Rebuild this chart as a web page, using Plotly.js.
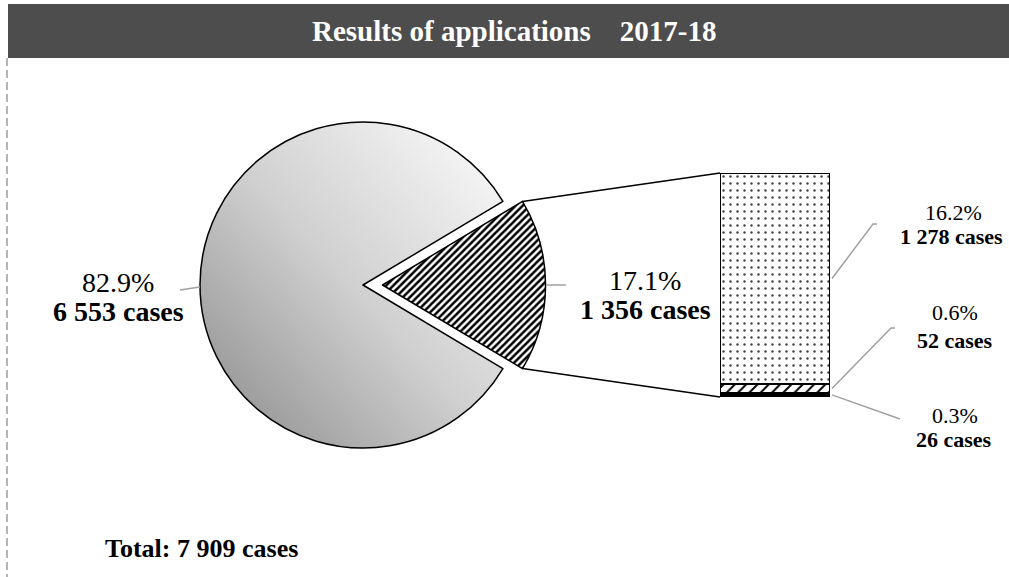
<!DOCTYPE html>
<html>
<head>
<meta charset="utf-8">
<script src="https://cdn.plot.ly/plotly-3.0.1.min.js"></script>
<style>html,body{margin:0;padding:0;background:#fff;}#chart{width:1009px;height:577px;}</style>
</head>
<body>
<div id="chart"></div>
<script>
// ---- data ----
const titleText = 'Results of applications\u00a0\u00a0\u00a0\u00a02017-18';
const pieCategories = ['Granted / other outcome', 'Broken down'];
const pieValues = [6553, 1356];
const piePctLabels = ['82.9%', '17.1%'];
const barCategories = ['Outcome A', 'Outcome B', 'Outcome C'];
const barValues = [1278, 52, 26];
const barPctLabels = ['16.2%', '0.6%', '0.3%'];
const totalLabel = 'Total: ';
const casesWord = ' cases';

// ---- helpers ----
const W = 1009, H = 577;
const X = p => p / W;
const Y = p => 1 - p / H;
const fmt = n => String(n).replace(/\B(?=(\d{3})+(?!\d))/g, ' ');
const total = pieValues.reduce((a, b) => a + b, 0);
const detailTotal = barValues.reduce((a, b) => a + b, 0);

// pie geometry (pixels)
const cx = 363, cy = 285, R = 163, pull = 0.12;
const half = R * (1 + pull);
const pieDomX = [X(cx - half), X(cx + half)];
const pieDomY = [Y(cy + half), Y(cy - half)];
const share = pieValues[1] / total;
const halfAng = share * Math.PI;
const rotation = 90 - share * 180;

// bar geometry (pixels)
const bx0 = 720, bx1 = 830, by0 = 173, by1 = 397;

const pieTrace = {
  type: 'pie',
  labels: [pieCategories[1], pieCategories[0]],
  values: [pieValues[1], pieValues[0]],
  sort: false,
  direction: 'clockwise',
  rotation: rotation,
  pull: [pull, 0],
  textinfo: 'none',
  hoverinfo: 'none',
  showlegend: false,
  domain: {x: pieDomX, y: pieDomY},
  marker: {
    colors: ['#ffffff', '#c8c8c8'],
    line: {color: '#000000', width: 1.5},
    pattern: {shape: ['/', ''], fgcolor: '#000000', bgcolor: ['#ffffff', '#c8c8c8'], size: 5, solidity: 0.5}
  }
};

const barTraces = [];
const order = [2, 1, 0];
const patShape = {0: '.', 1: '/', 2: ''};
const patSize = {0: 7, 1: 8, 2: 5};
const patSolid = {0: 0.1, 1: 0.25, 2: 0.3};
order.forEach(i => {
  barTraces.push({
    type: 'bar',
    x: [0],
    y: [barValues[i]],
    width: [1],
    name: barCategories[i],
    xaxis: 'x', yaxis: 'y',
    hoverinfo: 'none',
    showlegend: false,
    marker: {
      color: i === 2 ? '#000000' : '#ffffff',
      line: {color: '#000000', width: 1.5},
      pattern: {shape: patShape[i], fgcolor: i === 0 ? '#444444' : '#000000', bgcolor: '#ffffff', size: patSize[i], solidity: patSolid[i], fillmode: 'replace'}
    }
  });
});

// connector lines from exploded slice to bar
const pcx = cx + pull * R;
const topCorner = [pcx + R * Math.cos(halfAng), cy - R * Math.sin(halfAng)];
const botCorner = [pcx + R * Math.cos(halfAng), cy + R * Math.sin(halfAng)];

const shapes = [
  {type: 'rect', xref: 'paper', yref: 'paper', x0: X(8), x1: X(1009), y0: Y(58), y1: Y(4), fillcolor: '#4d4d4d', line: {width: 0}, layer: 'below'},
  {type: 'line', xref: 'paper', yref: 'paper', x0: X(7), x1: X(7), y0: Y(58), y1: Y(577), line: {color: '#9a9a9a', width: 1.5, dash: '8px,4px'}},
  {type: 'line', xref: 'paper', yref: 'paper', x0: X(topCorner[0]), y0: Y(topCorner[1]), x1: X(bx0), y1: Y(by0), line: {color: '#000', width: 1.5}},
  {type: 'line', xref: 'paper', yref: 'paper', x0: X(botCorner[0]), y0: Y(botCorner[1]), x1: X(bx0), y1: Y(by1), line: {color: '#000', width: 1.5}}
];

const lead = (pts) => ({type: 'path', xref: 'paper', yref: 'paper',
  path: 'M' + pts.map(p => X(p[0]) + ',' + Y(p[1])).join(' L'), line: {color: '#a0a0a0', width: 1.5}});
const segMid = i => {
  let below = 0;
  for (let k = barValues.length - 1; k > i; k--) below += barValues[k];
  return by1 - (below + barValues[i] / 2) / detailTotal * (by1 - by0);
};
shapes.push(lead([[180, 290], [200, 287]]));
shapes.push(lead([[pcx + R + 1, cy], [566, cy]]));
shapes.push(lead([[bx1 + 2, segMid(0)], [873, 224], [877, 224]]));
shapes.push(lead([[bx1 + 2, segMid(1)], [891, 328], [895, 328]]));
shapes.push(lead([[bx1 + 2, segMid(2)], [900, 419]]));

const serif = 'Liberation Serif, Times New Roman, serif';
const ann = (x, y, text, size, bold, color, xanchor) => ({
  xref: 'paper', yref: 'paper', x: X(x), y: Y(y), text: bold ? '<b>' + text + '</b>' : text,
  showarrow: false, xanchor: xanchor || 'center', yanchor: 'middle',
  font: {family: serif, size: size, color: color || '#000'}
});

const annotations = [
  ann(514, 31, titleText, 29, true, '#ffffff'),
  ann(118, 282, piePctLabels[0], 28, false),
  ann(118, 311, fmt(pieValues[0]) + casesWord, 28, true),
  ann(645, 280, piePctLabels[1], 28, false),
  ann(645, 309, fmt(pieValues[1]) + casesWord, 28, true),
  ann(953, 212, barPctLabels[0], 22, false),
  ann(951, 236, fmt(barValues[0]) + casesWord, 22, true),
  ann(955, 312, barPctLabels[1], 22, false),
  ann(955, 340, fmt(barValues[1]) + casesWord, 22, true),
  ann(955, 415, barPctLabels[2], 22, false),
  ann(954, 439, fmt(barValues[2]) + casesWord, 22, true),
  ann(103, 548, totalLabel + fmt(total) + casesWord, 26, true, '#000', 'left')
];

const layout = {
  width: W, height: H,
  margin: {l: 0, r: 0, t: 0, b: 0},
  paper_bgcolor: '#ffffff', plot_bgcolor: 'rgba(0,0,0,0)',
  barmode: 'stack',
  showlegend: false,
  xaxis: {domain: [X(bx0), X(bx1)], range: [-0.5, 0.5], visible: false, fixedrange: true},
  yaxis: {domain: [Y(by1), Y(by0)], range: [0, detailTotal], visible: false, fixedrange: true},
  shapes: shapes,
  annotations: annotations
};

Plotly.newPlot('chart', [pieTrace].concat(barTraces), layout, {staticPlot: true, displayModeBar: false}).then(() => {
  const svg = document.querySelector('#chart .main-svg');
  const NS = 'http://www.w3.org/2000/svg';
  let defs = svg.querySelector('defs');
  if (!defs) { defs = document.createElementNS(NS, 'defs'); svg.insertBefore(defs, svg.firstChild); }
  const g = document.createElementNS(NS, 'linearGradient');
  g.setAttribute('id', 'bigSliceGrad');
  g.setAttribute('x1', '1'); g.setAttribute('y1', '0');
  g.setAttribute('x2', '0'); g.setAttribute('y2', '1');
  [['0', '#fdfdfd'], ['0.5', '#d0d0d0'], ['1', '#888888']].forEach(s => {
    const st = document.createElementNS(NS, 'stop');
    st.setAttribute('offset', s[0]); st.setAttribute('stop-color', s[1]);
    g.appendChild(st);
  });
  defs.appendChild(g);
  const slices = document.querySelectorAll('#chart .pielayer .slice path.surface');
  if (slices.length > 1) slices[1].style.fill = 'url(#bigSliceGrad)';
});
</script>
</body>
</html>
